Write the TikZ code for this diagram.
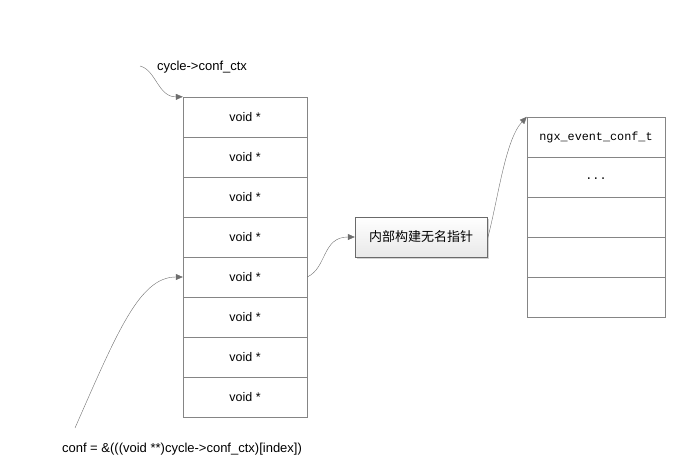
\documentclass[tikz,border=0pt]{standalone}
\usepackage{fontspec}
\setmainfont{Liberation Sans}
\setmonofont{Liberation Mono}
\newfontfamily\cjk{Noto Sans CJK SC}
\usetikzlibrary{arrows.meta,shadows}
\definecolor{linegray}{HTML}{6E6E6E}
\definecolor{boxgray}{HTML}{858585}

\begin{document}
\begin{tikzpicture}[x=1pt, y=-1pt, node distance={40pt},
    cell/.style = {draw=boxgray, minimum width=124pt, minimum height=40pt, inner sep=0pt, font=\fontsize{12.5}{14}\selectfont},
    slot/.style = {draw=boxgray, minimum width=138pt, minimum height=40pt, inner sep=0pt, font=\ttfamily\fontsize{11.8}{14}\selectfont},
    link/.style = {draw=linegray, -{Triangle[length=7pt, width=6pt, fill=linegray]}}]
    \useasboundingbox (0,0) rectangle (685,469);
    % left column
    \node[cell] (1) at (245,117) {void *};
    \node[cell] (2) [below of=1] {void *};
    \node[cell] (3) [below of=2] {void *};
    \node[cell] (4) [below of=3] {void *};
    \node[cell] (5) [below of=4] {void *};
    \node[cell] (6) [below of=5] {void *};
    \node[cell] (7) [below of=6] {void *};
    \node[cell] (8) [below of=7] {void *};
    % right column
    \node[slot] (r1) at (596,137) {ngx\_event\_conf\_t};
    \node[slot] (r2) [below of=r1] {\raisebox{-4pt}{...}};
    \node[slot] (r3) [below of=r2] {};
    \node[slot] (r4) [below of=r3] {};
    \node[slot] (r5) [below of=r4] {};
    % middle box
    \node[draw=boxgray!80!black, top color=white, bottom color=gray!18, drop shadow={shadow xshift=1.5pt, shadow yshift=-1.5pt, opacity=0.35},
          minimum width=132pt, minimum height=40pt, font=\cjk\fontsize{13}{15}\selectfont] (m) at (421,237) {内部构建无名指针};
    % labels
    \coordinate (s1) at (140,66);
    \coordinate (s2) at (75,428);
    \node[font=\fontsize{13}{15}\selectfont] (l1) at (202,67) {cycle->conf\_ctx};
    \node[font=\fontsize{13}{15}\selectfont] (l2) at (182,449) {conf = \&(((void **)cycle->conf\_ctx)[index])};
    % arrows
    \draw[link] (s1) .. controls (156,70) and (158,97) .. (1.north west);
    \draw[link] (s2) .. controls (118,330) and (140,277) .. (5.west);
    \draw[link] (5.east) .. controls (327,268) and (322,237) .. (m.west);
    \draw[link] ([yshift=-3pt]m.east) .. controls (498,200) and (505,140) .. (r1.north west);
\end{tikzpicture}
\end{document}
